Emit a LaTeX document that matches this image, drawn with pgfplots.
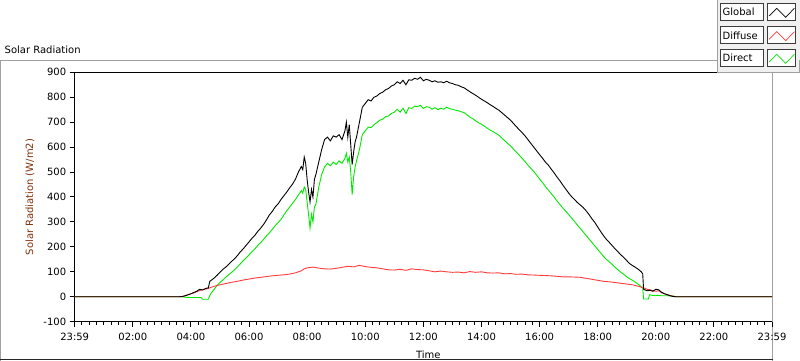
\documentclass[border=0pt]{standalone}
\usepackage{pgfplots}
\pgfplotsset{compat=1.18}
\usepackage{fontspec}
\setmainfont{DejaVu Sans}
\definecolor{cdiff}{RGB}{255,60,60}
\definecolor{cdir}{RGB}{0,235,0}
\definecolor{ylab}{RGB}{130,50,10}
\definecolor{cframe}{RGB}{160,160,160}
\definecolor{cpanel}{RGB}{240,240,240}
\definecolor{cbox}{RGB}{60,60,60}
\begin{document}
\fontsize{10pt}{12pt}\selectfont
\begin{tikzpicture}
\useasboundingbox (0,0) rectangle (800pt,361pt);
\fill[white] (0,0) rectangle (800pt,361pt);
\draw[cframe, line width=1pt] (0.5pt,0) -- (0.5pt,300pt) -- (772.5pt,300pt);
\draw[cframe, line width=1pt] (772.5pt,0) -- (772.5pt,300pt);
\draw[black!85, line width=1pt] (0,1.5pt) -- (773pt,1.5pt);
\node[anchor=west, inner sep=0pt] at (4.5pt,311pt) {Solar Radiation};
\begin{axis}[
  at={(74.7pt,39.3pt)}, anchor=south west,
  width=697.3pt, height=249.4pt, scale only axis,
  xmin=0, xmax=24, ymin=-100, ymax=900,
  axis x line*=bottom, axis y line*=left,
  axis line style={-, line width=1pt, black},
  tick align=outside,
  tick style={black, line width=1pt},
  major tick length=5pt, minor tick length=3pt,
  xtick={0,2,...,24},
  xticklabels={23:59,02:00,04:00,06:00,08:00,10:00,12:00,14:00,16:00,18:00,20:00,22:00,23:59},
  minor x tick num=7,
  ytick={-100,0,...,900},
  /pgf/number format/assume math mode=true,
  ticklabel style={font=\fontsize{10pt}{12pt}\selectfont},
  xticklabel style={yshift=-3pt},
  xlabel={Time}, ylabel={Solar Radiation (W/m2)},
  every axis x label/.style={at={(axis description cs:0.507,-0.131)}, anchor=center},
  every axis y label/.style={at={(axis description cs:-0.064,0.5)}, rotate=90, anchor=center, text=ylab},
]
% Direct
\addplot[cdir, line width=0.9pt] coordinates {
(0,0) (3.6,0) (3.7,0) (3.8,-2) (4.0,-3) (4.2,-3) (4.35,-3) (4.4,-10) (4.5,-10) (4.6,-10) (4.65,5)
(4.7,15) (4.8,30) (4.9,45) (5.0,57) (5.1,67) (5.2,78) (5.3,88) (5.4,98) (5.5,108) (5.6,120)
(5.7,132) (5.8,145) (5.9,156) (6.0,168) (6.1,180) (6.2,192) (6.3,205) (6.4,217) (6.5,230) (6.6,244)
(6.7,256) (6.8,270) (6.9,285) (7.0,297) (7.1,310) (7.2,328) (7.3,345) (7.4,360) (7.5,375) (7.6,390)
(7.7,408) (7.8,425) (7.85,415) (7.9,440) (7.95,430) (8.0,380) (8.05,330) (8.1,275) (8.15,330) (8.2,300)
(8.25,360) (8.3,370) (8.4,440) (8.5,490) (8.6,520) (8.7,535) (8.8,525) (8.9,540) (9.0,530) (9.1,545)
(9.2,535) (9.3,555) (9.35,575) (9.4,540) (9.45,560) (9.5,500) (9.55,410) (9.6,480) (9.65,520) (9.7,545)
(9.8,590) (9.9,650) (10.0,665) (10.1,680) (10.2,678) (10.3,690) (10.4,698) (10.5,708) (10.6,712) (10.7,722)
(10.8,725) (10.9,735) (11.0,740) (11.1,752) (11.2,740) (11.3,756) (11.4,735) (11.5,758) (11.6,755) (11.7,764)
(11.8,762) (11.9,768) (12.0,755) (12.1,762) (12.2,760) (12.3,752) (12.4,758) (12.5,750) (12.6,756) (12.7,752)
(12.8,760) (12.9,754) (13.0,752) (13.1,748) (13.2,746) (13.3,742) (13.4,738) (13.5,730) (13.6,720) (13.7,714)
(13.8,705) (13.9,698) (14.0,692) (14.1,684) (14.2,676) (14.3,668) (14.4,662) (14.5,655) (14.6,648) (14.7,636)
(14.8,626) (14.9,615) (15.0,605) (15.1,592) (15.2,580) (15.3,568) (15.4,555) (15.5,542) (15.6,528) (15.7,515)
(15.8,502) (15.9,488) (16.0,472) (16.1,458) (16.2,442) (16.3,428) (16.4,414) (16.5,400) (16.6,384) (16.7,370)
(16.8,356) (16.9,343) (17.0,330) (17.1,316) (17.2,302) (17.3,288) (17.4,274) (17.5,260) (17.6,246) (17.7,232)
(17.8,218) (17.9,204) (18.0,190) (18.1,176) (18.2,162) (18.3,150) (18.4,140) (18.5,130) (18.6,118) (18.7,108)
(18.8,98) (18.9,90) (19.0,80) (19.1,72) (19.2,66) (19.3,58) (19.4,50) (19.5,40) (19.55,34) (19.58,-9)
(19.75,-9) (19.78,8) (19.9,5) (20.0,6) (20.2,4) (20.4,4) (20.6,3) (20.7,0) (24,0)
};
% Diffuse
\addplot[cdiff, line width=0.9pt] coordinates {
(0,0) (3.6,0) (3.7,1) (3.8,4) (3.9,8) (4.0,12) (4.1,16) (4.2,20) (4.3,25) (4.4,28) (4.5,31) (4.6,33)
(4.7,38) (4.8,42) (4.9,45) (5.0,48) (5.2,53) (5.4,58) (5.6,62) (5.8,67) (6.0,71) (6.2,75) (6.4,78)
(6.6,81) (6.8,84) (7.0,86) (7.2,88) (7.4,91) (7.6,96) (7.8,104) (7.9,112) (8.0,116) (8.2,119) (8.4,115)
(8.6,112) (8.8,111) (9.0,114) (9.2,118) (9.4,122) (9.6,120) (9.8,126) (10.0,121) (10.2,118) (10.4,116)
(10.6,112) (10.8,108) (11.0,107) (11.2,110) (11.4,106) (11.6,112) (11.8,109) (12.0,108) (12.2,104)
(12.4,100) (12.6,103) (12.8,100) (13.0,98) (13.2,99) (13.4,96) (13.6,101) (13.8,98) (14.0,100) (14.2,96)
(14.4,95) (14.6,96) (14.8,92) (15.0,93) (15.2,90) (15.4,91) (15.6,88) (15.8,87) (16.0,86) (16.2,85)
(16.4,84) (16.6,82) (16.8,80) (17.0,80) (17.2,79) (17.4,78) (17.6,74) (17.8,70) (18.0,66) (18.2,62)
(18.4,60) (18.6,57) (18.8,54) (19.0,51) (19.2,48) (19.4,42) (19.6,35) (19.7,30) (19.8,28) (19.9,24)
(20.0,22) (20.1,24) (20.2,16) (20.3,12) (20.4,8) (20.5,5) (20.6,2) (20.7,0) (24,0)
};
% Global
\addplot[black, line width=0.9pt] coordinates {
(0,0) (3.6,0) (3.7,1) (3.8,4) (3.9,8) (4.0,12) (4.1,17) (4.2,22) (4.3,30) (4.4,27) (4.5,33) (4.6,36)
(4.65,62) (4.7,66) (4.8,75) (4.9,86) (5.0,98) (5.1,110) (5.2,119) (5.3,130) (5.4,142) (5.5,152)
(5.6,165) (5.7,180) (5.8,192) (5.9,206) (6.0,220) (6.1,234) (6.2,246) (6.3,262) (6.4,275) (6.5,290)
(6.6,308) (6.7,328) (6.8,342) (6.9,360) (7.0,372) (7.1,390) (7.2,405) (7.3,420) (7.4,437) (7.5,452)
(7.6,472) (7.7,500) (7.8,522) (7.85,510) (7.9,560) (7.95,535) (8.0,470) (8.05,420) (8.1,380) (8.15,430)
(8.2,400) (8.25,470) (8.3,490) (8.4,540) (8.5,590) (8.6,630) (8.7,640) (8.8,625) (8.9,645) (9.0,640)
(9.1,650) (9.2,630) (9.3,665) (9.35,700) (9.4,640) (9.45,690) (9.5,610) (9.55,530) (9.6,580) (9.65,620)
(9.7,640) (9.8,700) (9.9,760) (10.0,775) (10.1,790) (10.2,785) (10.3,800) (10.4,805) (10.5,815) (10.6,820)
(10.7,830) (10.8,835) (10.9,845) (11.0,850) (11.1,862) (11.2,855) (11.3,868) (11.4,850) (11.5,870) (11.6,868)
(11.7,876) (11.8,872) (11.9,880) (12.0,866) (12.1,872) (12.2,868) (12.3,862) (12.4,866) (12.5,860) (12.6,862)
(12.7,858) (12.8,864) (12.9,858) (13.0,855) (13.1,850) (13.2,848) (13.3,842) (13.4,838) (13.5,830) (13.6,822)
(13.7,815) (13.8,808) (13.9,800) (14.0,792) (14.1,785) (14.2,778) (14.3,770) (14.4,763) (14.5,755) (14.6,748)
(14.7,738) (14.8,728) (14.9,718) (15.0,708) (15.1,695) (15.2,682) (15.3,670) (15.4,658) (15.5,645) (15.6,630)
(15.7,615) (15.8,600) (15.9,585) (16.0,570) (16.1,556) (16.2,540) (16.3,528) (16.4,512) (16.5,497) (16.6,480)
(16.7,465) (16.8,448) (16.9,432) (17.0,416) (17.1,402) (17.2,390) (17.3,378) (17.4,368) (17.5,358) (17.6,345)
(17.7,330) (17.8,313) (17.9,298) (18.0,280) (18.1,262) (18.2,245) (18.3,230) (18.4,218) (18.5,205) (18.6,192)
(18.7,180) (18.8,168) (18.9,157) (19.0,145) (19.1,133) (19.2,125) (19.3,118) (19.4,110) (19.5,100) (19.55,92)
(19.58,30) (19.7,24) (19.8,26) (19.9,22) (20.0,30) (20.1,28) (20.2,18) (20.3,12) (20.4,8) (20.5,4)
(20.6,1) (20.7,0) (24,0)
};
\draw[black, line width=1pt] (rel axis cs:0,1) -- (rel axis cs:1,1);
\end{axis}
% legend panel
\fill[cpanel] (717pt,288pt) rectangle (800pt,361pt);
\draw[cframe, line width=1pt] (717.5pt,288pt) -- (717.5pt,361pt);
\draw[cframe, line width=1pt] (717pt,288.5pt) -- (799.5pt,288.5pt) -- (799.5pt,301pt);
\foreach \yt/\lab/\col in {357.7/Global/black, 334.3/Diffuse/cdiff, 311.7/Direct/cdir}{
  \draw[cbox, fill=white, line width=0.8pt] (720.7pt,\yt pt-16.7pt) rectangle (763.3pt,\yt pt);
  \node[anchor=west, inner sep=0pt] at (722.5pt,\yt pt-8.6pt) {\lab};
  \draw[cbox, fill=white, line width=0.8pt] (767.7pt,\yt pt-16.7pt) rectangle (795.7pt,\yt pt);
  \draw[\col, line width=0.7pt] (769pt,\yt pt-12.7pt) -- (776.7pt,\yt pt-5pt) -- (785.7pt,\yt pt-14pt) -- (794.3pt,\yt pt-5pt);
}
\end{tikzpicture}
\end{document}
